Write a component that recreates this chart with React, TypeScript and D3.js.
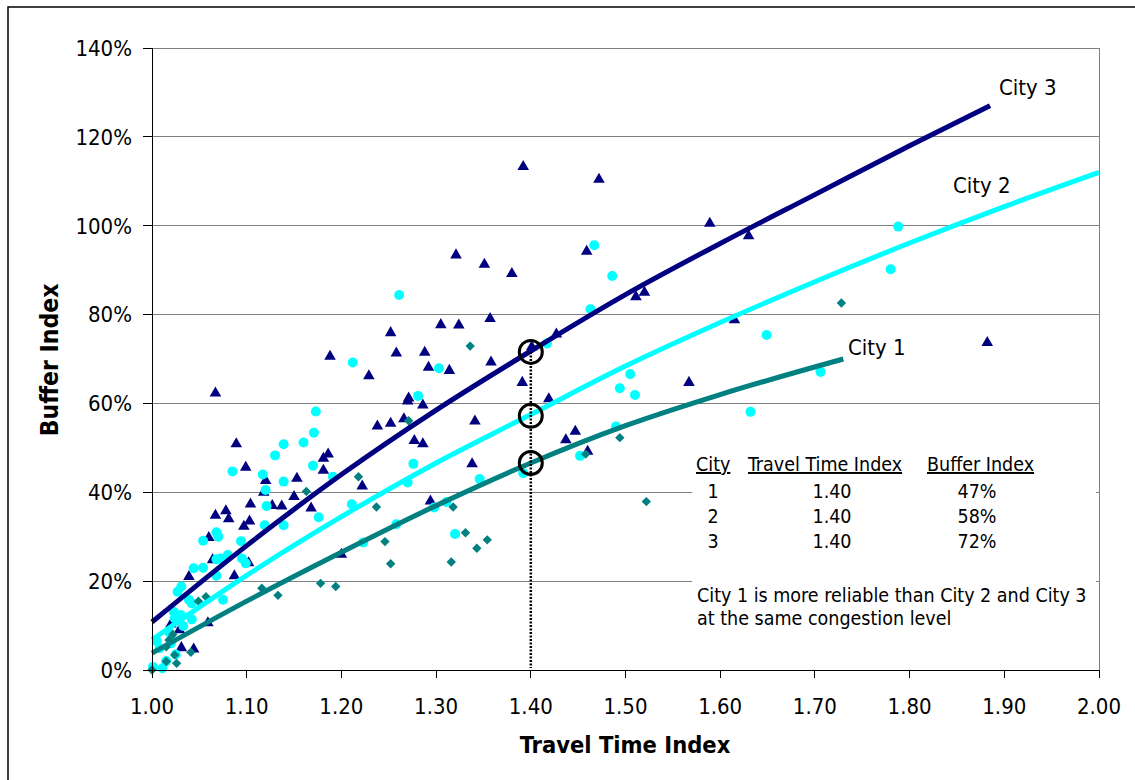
import React from 'react';
import * as d3 from 'd3';

// scatter points: [travel time index, buffer index %]
const city1Points: [number, number][] = [
  [1.163, 40.2], [1.057, 16.5], [1.049, 15.5], [1.116, 18.4], [1.133, 16.8], [1.178, 19.5],
  [1.194, 18.8], [1.018, 6.75], [1.015, 5.2], [1.024, 3.4], [1.026, 1.5], [1.041, 4.0],
  [1.015, 1.9], [1.0, 0.0], [1.022, 8.0], [1.336, 72.9], [1.271, 56.1], [1.218, 43.5],
  [1.237, 36.7], [1.318, 36.7], [1.246, 28.9], [1.331, 30.9], [1.343, 27.4], [1.354, 29.3],
  [1.252, 23.9], [1.316, 24.3], [1.494, 52.3], [1.458, 48.6], [1.522, 37.9], [1.728, 82.6],
];

const city2Points: [number, number][] = [
  [1.173, 58.2], [1.171, 53.4], [1.16, 51.2], [1.139, 50.8], [1.13, 48.3], [1.085, 44.7],
  [1.117, 44.0], [1.17, 46.0], [1.139, 42.4], [1.12, 40.5], [1.191, 43.5], [1.121, 36.9],
  [1.176, 34.4], [1.139, 32.6], [1.119, 32.6], [1.212, 69.2], [1.261, 84.4], [1.211, 37.3],
  [1.054, 29.1], [1.068, 31.0], [1.07, 30.0], [1.094, 29.0], [1.08, 25.9], [1.068, 24.9],
  [1.072, 25.1], [1.095, 25.1], [1.099, 24.0], [1.044, 22.9], [1.054, 23.0], [1.068, 21.2],
  [1.031, 18.8], [1.027, 17.6], [1.075, 15.8], [1.039, 15.8], [1.042, 15.0], [1.023, 13.1],
  [1.03, 12.4], [1.024, 11.6], [1.033, 9.9], [1.042, 11.4], [1.008, 4.9], [1.025, 3.5],
  [1.001, 0.7], [1.011, 0.4], [1.005, 6.5], [1.018, 8.5], [1.015, 2.0], [1.02, 6.0],
  [1.303, 67.9], [1.281, 61.7], [1.276, 46.4], [1.27, 42.2], [1.346, 43.0], [1.298, 36.6],
  [1.311, 37.8], [1.258, 32.8], [1.32, 30.6], [1.223, 28.7], [1.417, 73.5], [1.392, 44.3],
  [1.467, 95.6], [1.486, 88.7], [1.463, 81.2], [1.649, 75.4], [1.505, 66.6], [1.494, 63.4],
  [1.51, 61.9], [1.49, 54.8], [1.452, 48.2], [1.788, 99.8], [1.78, 90.2], [1.706, 67.1],
  [1.632, 58.1],
];

const city3Points: [number, number][] = [
  [1.188, 70.6], [1.067, 62.3], [1.089, 50.9], [1.099, 45.6], [1.186, 48.6], [1.181, 47.6],
  [1.181, 44.9], [1.12, 42.6], [1.153, 43.1], [1.118, 40.0], [1.15, 39.0], [1.104, 37.3],
  [1.127, 37.0], [1.137, 36.9], [1.168, 36.4], [1.067, 34.8], [1.078, 35.8], [1.081, 34.0],
  [1.103, 33.5], [1.097, 32.3], [1.06, 29.8], [1.064, 24.8], [1.039, 21.0], [1.087, 21.2],
  [1.102, 24.1], [1.059, 10.6], [1.031, 5.0], [1.044, 4.7], [1.02, 10.3], [1.029, 9.0],
  [1.392, 113.3], [1.321, 93.4], [1.351, 91.3], [1.38, 89.2], [1.252, 75.9], [1.305, 77.7],
  [1.324, 77.6], [1.357, 79.1], [1.258, 71.3], [1.288, 71.5], [1.292, 68.1], [1.314, 67.4],
  [1.358, 69.3], [1.229, 66.2], [1.391, 64.7], [1.271, 61.2], [1.27, 60.5], [1.286, 59.6],
  [1.238, 54.9], [1.252, 55.5], [1.266, 56.5], [1.341, 56.0], [1.277, 51.6], [1.286, 50.9],
  [1.338, 46.4], [1.222, 41.4], [1.294, 38.0], [1.2, 26.0], [1.419, 61.0], [1.427, 75.6],
  [1.401, 72.7], [1.472, 110.4], [1.459, 94.2], [1.589, 100.5], [1.63, 97.7], [1.511, 84.0],
  [1.52, 85.0], [1.615, 78.8], [1.567, 64.7], [1.437, 51.8], [1.447, 53.7], [1.46, 49.2],
  [1.882, 73.7],
];

// trend lines
const city1Trend: [number, number][] = [
  [1.0, 3.8], [1.1, 15.5], [1.2, 26.5], [1.3, 37.0], [1.4, 46.6], [1.5, 55.0], [1.6, 62.0], [1.73, 70.0],
];
const city2Trend: [number, number][] = [
  [1.0, 6.8], [1.1, 21.3], [1.2, 34.5], [1.3, 46.6], [1.4, 57.5], [1.5, 68.4], [1.6, 78.2],
  [1.7, 87.4], [1.8, 96.1], [1.9, 104.3], [2.0, 112.0],
];
const city3Trend: [number, number][] = [
  [1.0, 10.8], [1.1, 28.0], [1.2, 44.0], [1.3, 58.5], [1.4, 71.8], [1.5, 84.5], [1.6, 96.0],
  [1.7, 107.0], [1.8, 118.0], [1.885, 127.0],
];

const highlightTti = 1.4;
const highlightBuffer = [46.6, 57.2, 71.6];

const tableCities = ['1', '2', '3'];
const tableTti = ['1.40', '1.40', '1.40'];
const tableBuffer = ['47%', '58%', '72%'];

const W = 1135;
const H = 780;
const FONT = '"DejaVu Sans Condensed", "DejaVu Sans", sans-serif';

export default function App() {
  const x = d3.scaleLinear().domain([1, 2]).range([152, 1099]);
  const y = d3.scaleLinear().domain([0, 140]).range([670, 48]);

  const line = d3.line<[number, number]>()
    .x(d => x(d[0]))
    .y(d => y(d[1]))
    .curve(d3.curveMonotoneX);

  const tri = d3.symbol().type(d3.symbolTriangle).size(58)()!;
  const sq = d3.symbol().type(d3.symbolSquare).size(44)()!;

  const xTicks = x.ticks(10);
  const yTicks = y.ticks(7);

  return (
    <svg width={W} height={H} style={{ position: 'absolute', left: 0, top: 0 }} fontFamily={FONT}>
      <rect x={0} y={0} width={W} height={H} fill="#fff" />
      <rect x={8} y={7} width={W + 20} height={H + 20} fill="none" stroke="#000" strokeWidth={1.5} />

      {/* grid */}
      {yTicks.map(t => (
        <line key={'g' + t} x1={x(1)} x2={x(2)} y1={y(t)} y2={y(t)} stroke="#808080" strokeWidth={1} shapeRendering="crispEdges" />
      ))}
      <line x1={x(2)} x2={x(2)} y1={y(140)} y2={y(0)} stroke="#808080" strokeWidth={1} shapeRendering="crispEdges" />

      {/* markers */}
      {city3Points.map((d, i) => (
        <path key={'t' + i} d={tri} transform={`translate(${x(d[0])},${y(d[1])})`} fill="#000080" />
      ))}
      {city2Points.map((d, i) => (
        <circle key={'c' + i} cx={x(d[0])} cy={y(d[1])} r={5} fill="#00FFFF" />
      ))}
      {city1Points.map((d, i) => (
        <path key={'d' + i} d={sq} transform={`translate(${x(d[0])},${y(d[1])}) rotate(45)`} fill="#008080" />
      ))}

      {/* trend lines */}
      <path d={line(city1Trend)!} fill="none" stroke="#008080" strokeWidth={5} />
      <path d={line(city2Trend)!} fill="none" stroke="#00FFFF" strokeWidth={5} />
      <path d={line(city3Trend)!} fill="none" stroke="#000080" strokeWidth={5} />

      {/* table box */}
      <rect x={692} y={447} width={404} height={191} fill="#fff" />
      <g fontSize={19.5} fill="#000">
        <text x={696} y={471} textDecoration="underline">City</text>
        <text x={748} y={471} textDecoration="underline">Travel Time Index</text>
        <text x={927} y={471} textDecoration="underline">Buffer Index</text>
        {tableCities.map((c, i) => (
          <g key={'r' + i}>
            <text x={713} y={498 + i * 25} textAnchor="middle">{c}</text>
            <text x={832} y={498 + i * 25} textAnchor="middle">{tableTti[i]}</text>
            <text x={977} y={498 + i * 25} textAnchor="middle">{tableBuffer[i]}</text>
          </g>
        ))}
        <text x={697} y={602}>City 1 is more reliable than City 2 and City 3</text>
        <text x={697} y={625}>at the same congestion level</text>
      </g>

      {/* highlight at 1.40 */}
      <line x1={x(highlightTti)} x2={x(highlightTti)} y1={y(highlightBuffer[2])} y2={y(0) - 2}
        stroke="#000" strokeWidth={2.5} strokeDasharray="2 1.5" />
      {highlightBuffer.map((b, i) => (
        <circle key={'h' + i} cx={x(highlightTti)} cy={y(b)} r={11.5} fill="none" stroke="#000" strokeWidth={3} />
      ))}

      {/* line labels */}
      <g fontSize={22} fill="#000">
        <text x={999} y={95}>City 3</text>
        <text x={953} y={193}>City 2</text>
        <text x={848} y={355}>City 1</text>
      </g>

      {/* axes */}
      <line x1={x(1)} x2={x(1)} y1={y(140)} y2={y(0)} stroke="#000" strokeWidth={1} shapeRendering="crispEdges" />
      <line x1={x(1)} x2={x(2)} y1={y(0)} y2={y(0)} stroke="#000" strokeWidth={1} shapeRendering="crispEdges" />
      {yTicks.map(t => (
        <g key={'y' + t}>
          <line x1={x(1) - 9} x2={x(1)} y1={y(t)} y2={y(t)} stroke="#000" shapeRendering="crispEdges" />
          <text x={132} y={y(t)} dy="0.36em" textAnchor="end" fontSize={22}>{t}%</text>
        </g>
      ))}
      {xTicks.map(t => (
        <g key={'x' + t}>
          <line x1={x(t)} x2={x(t)} y1={y(0)} y2={y(0) + 8} stroke="#000" shapeRendering="crispEdges" />
          <text x={x(t)} y={714} textAnchor="middle" fontSize={22}>{d3.format('.2f')(t)}</text>
        </g>
      ))}

      <text x={625} y={753} textAnchor="middle" fontSize={23.5} fontWeight="bold">Travel Time Index</text>
      <text transform="translate(58,360) rotate(-90)" textAnchor="middle" fontSize={24.5} fontWeight="bold">Buffer Index</text>
    </svg>
  );
}
